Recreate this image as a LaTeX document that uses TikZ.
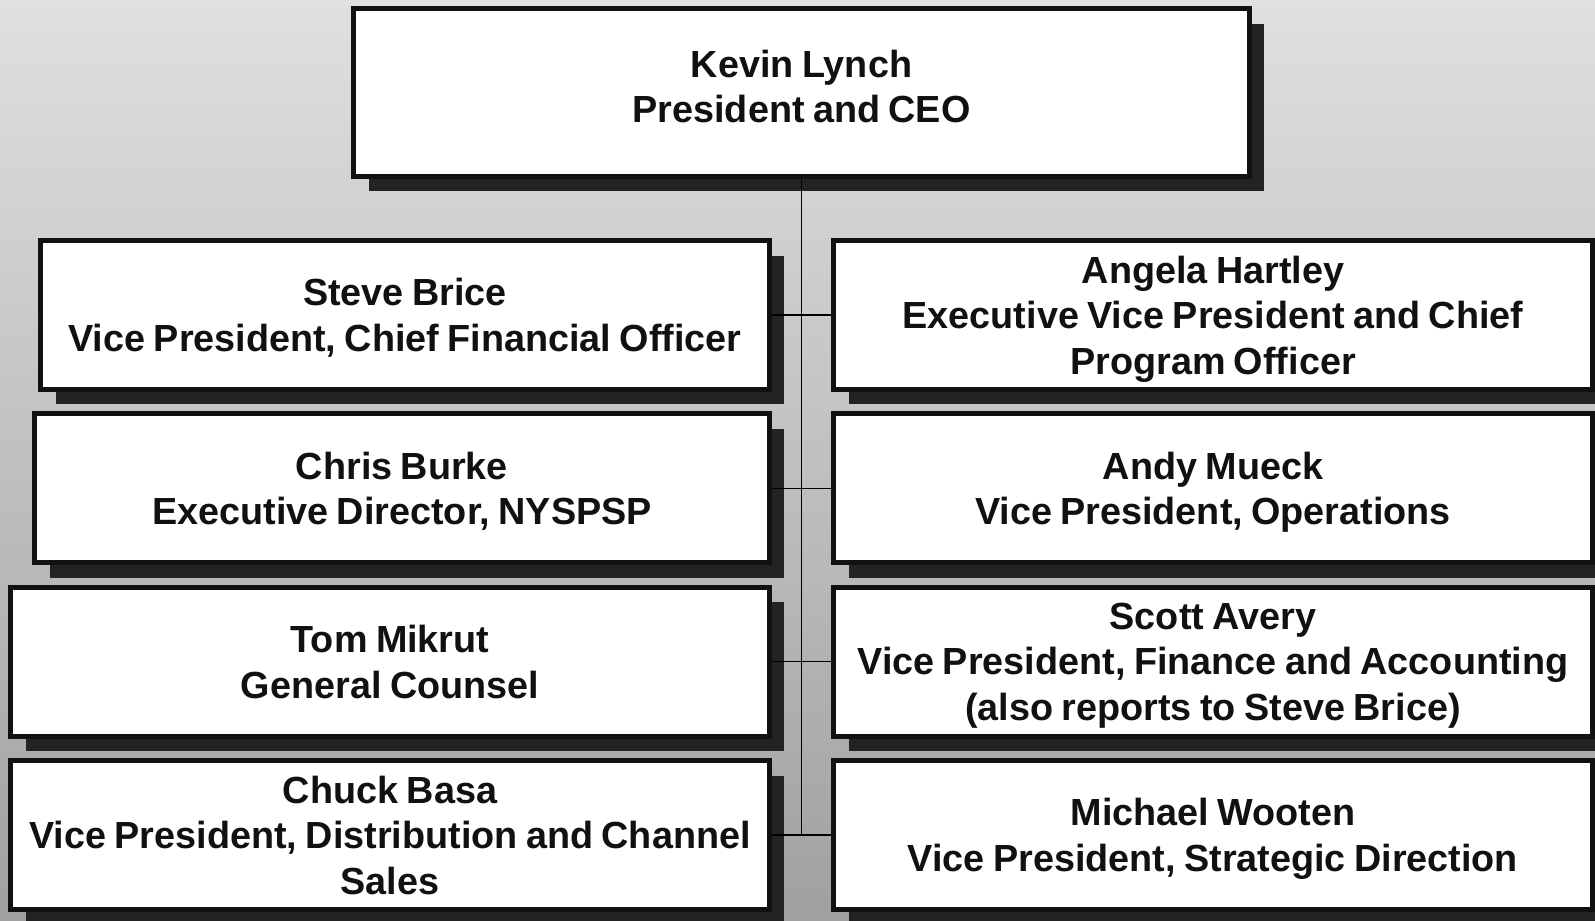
\documentclass[tikz,border=0pt]{standalone}
\usepackage{fontspec}
\setmainfont[WordSpace=0.8]{Liberation Sans}
\usetikzlibrary{shadows}

\definecolor{bgtop}{RGB}{224,224,224}
\definecolor{bgbottom}{RGB}{160,160,160}
\definecolor{inkblack}{RGB}{17,17,17}
\definecolor{shadowgray}{RGB}{35,35,35}

\begin{document}
\begin{tikzpicture}[x=0.02cm, y=-0.02cm,
    font=\fontsize{21.5}{26}\selectfont\bfseries,
    person/.style={draw=inkblack, line width=0.1cm, fill=white, text=inkblack,
      align=center, inner sep=0pt, minimum height=2.98cm, text depth=0pt,
      drop shadow={shadow xshift=0.3cm, shadow yshift=-0.3cm, fill=shadowgray, opacity=1}},
    link/.style={draw=black, line width=0.7pt}]

        % Background
        \shade[top color=bgtop, bottom color=bgbottom] (0,0) rectangle (1595,920);
        \useasboundingbox (0,0) rectangle (1595,920);

        % President
        \node[person, minimum width=17.92cm, minimum height=3.36cm, text depth=7pt] (ceo) at (801.5,92.5)
          {Kevin Lynch\\President and CEO};

        % Left column
        \node[person, minimum width=14.58cm] (brice) at (405,315)
          {Steve Brice\\Vice President, Chief Financial Officer};
        \node[person, minimum width=14.70cm] (burke) at (402,488.3)
          {Chris Burke\\Executive Director, NYSPSP};
        \node[person, minimum width=15.18cm] (mikrut) at (390,661.7)
          {Tom Mikrut\\General Counsel};
        \node[person, minimum width=15.18cm] (basa) at (390,835)
          {Chuck Basa\\Vice President, Distribution and Channel\\Sales};

        % Right column
        \node[person, minimum width=15.18cm] (hartley) at (1213,315)
          {Angela Hartley\\Executive Vice President and Chief\\Program Officer};
        \node[person, minimum width=15.18cm] (mueck) at (1213,488.3)
          {Andy Mueck\\Vice President, Operations};
        \node[person, minimum width=15.18cm] (avery) at (1213,661.7)
          {Scott Avery\\Vice President, Finance and Accounting\\(also reports to Steve Brice)};
        \node[person, minimum width=15.18cm] (wooten) at (1213,835)
          {Michael Wooten\\Vice President, Strategic Direction};

        % Reporting lines
        \draw[link] (ceo.south) -- (ceo.south |- basa.east);
        \foreach \a/\b in {brice/hartley, burke/mueck, mikrut/avery, basa/wooten}
          \draw[link] (\a.east) -- (\b.west);

      \end{tikzpicture}
\end{document}
